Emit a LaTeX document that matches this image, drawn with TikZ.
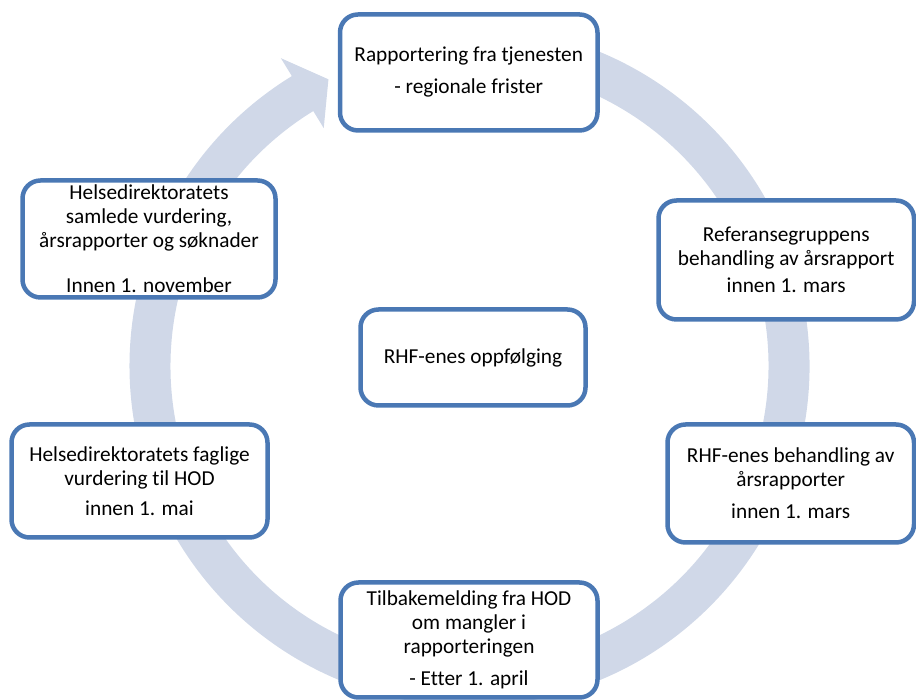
\documentclass[tikz,border=0pt]{standalone}
\usepackage{fontspec}
\setmainfont{Carlito}[Ligatures=NoCommon]
\usetikzlibrary{calc}
\definecolor{boxblue}{HTML}{4A78B4}
\definecolor{ringblue}{HTML}{D0D8E8}
\tikzset{
  stagebox/.style={draw=boxblue, line width=4.5pt, fill=white, rounded corners=18pt,
    align=center, inner sep=0pt, font=\fontsize{21.3}{24}\selectfont, text=black},
  ringfill/.style={fill=ringblue}
}
\begin{document}
\begin{tikzpicture}[x=1pt, y=1pt]
\useasboundingbox (0,0) rectangle (916,700);
\coordinate (C) at (469.5,334);
% cycle arrow
\fill[ringfill] ($(C)+(100:340)$) arc[start angle=100, end angle=-238.5, radius=340]
  -- ($(C)+(121.5:361)$) -- ($(C)+(116.2:319.5)$) -- ($(C)+(121.5:279)$)
  -- ($(C)+(121.5:299)$) arc[start angle=-238.5, end angle=100, radius=299] -- cycle;
% boxes
\node[stagebox, minimum width=257.5, minimum height=116] (top) at (468.75,627.5)
  {Rapportering fra tjenesten\\[8pt]- regionale frister};
\node[stagebox, minimum width=255.5, minimum height=119] (rt) at (786.25,440)
  {Referansegruppens\\behandling av årsrapport\\[3pt]innen 1. mars};
\node[stagebox, minimum width=246.5, minimum height=118] (rb) at (790.75,216.5)
  {RHF-enes behandling av\\årsrapporter\\[8pt]innen 1. mars};
\node[stagebox, minimum width=257, minimum height=115] (bot) at (469,60)
  {Tilbakemelding fra HOD\\om mangler i\\rapporteringen\\[8pt]- Etter 1. april};
\node[stagebox, minimum width=256, minimum height=113] (lb) at (139.5,219)
  {Helsedirektoratets faglige\\vurdering til HOD\\[6pt]innen 1. mai};
\node[stagebox, minimum width=253, minimum height=117] (lt) at (149,461)
  {Helsedirektoratets\\samlede vurdering,\\årsrapporter og søknader\\[21pt]Innen 1. november};
\node[stagebox, minimum width=225, minimum height=96] (ctr) at (473,342.5)
  {RHF-enes oppfølging};
\end{tikzpicture}
\end{document}
